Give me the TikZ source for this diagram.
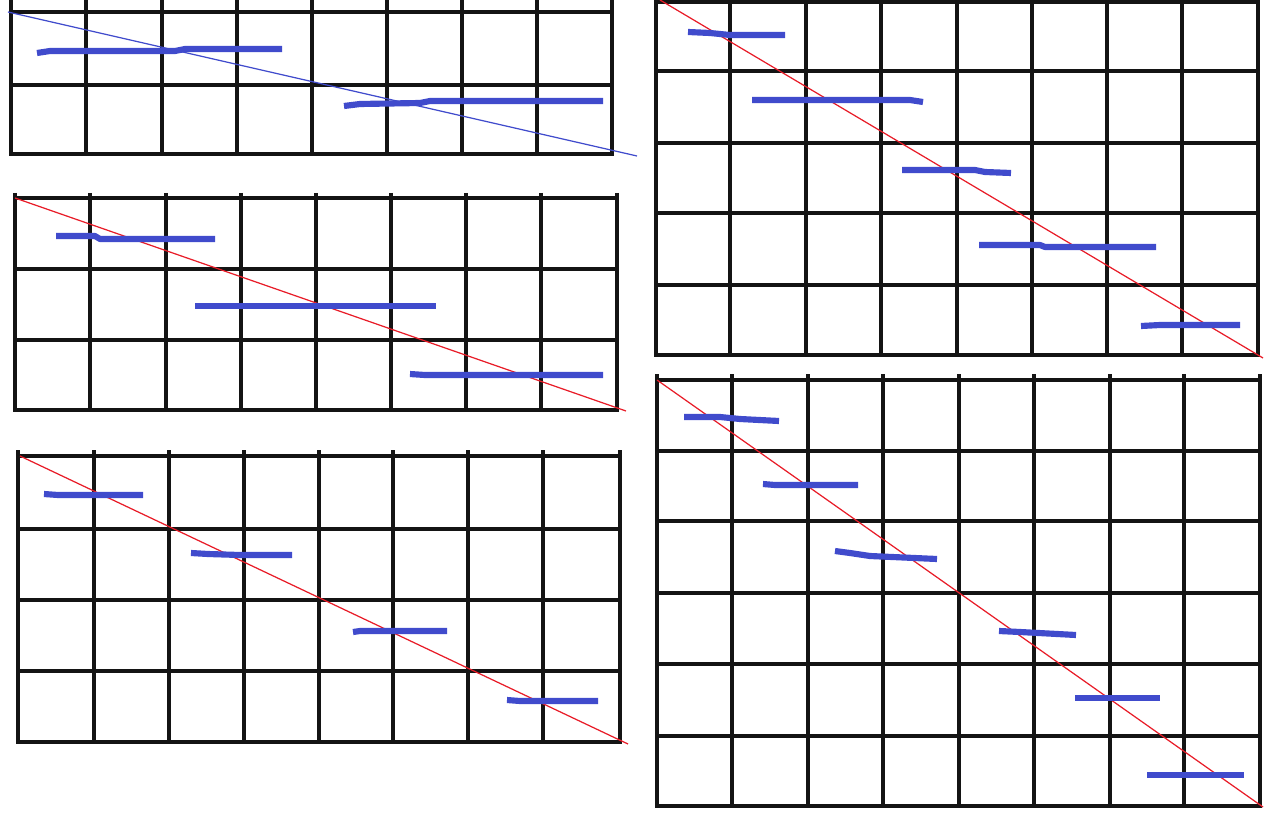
\documentclass[tikz,border=0pt]{standalone}
\usepackage{tikz}
\definecolor{gblue}{RGB}{64,75,204}
\definecolor{gred}{RGB}{232,28,40}
\tikzset{
  gridline/.style={line width=1.8pt, black!92},
  stroke/.style={line width=3.5pt, gblue, line cap=butt, line join=bevel},
  diagred/.style={line width=0.7pt, gred},
  diagblue/.style={line width=0.7pt, gblue},
}
\begin{document}
\begin{tikzpicture}[x=0.02cm, y=-0.02cm]
\useasboundingbox (0,0) rectangle (1280,824);
% ---------- panel 1 (top left)
\foreach \x in {11,86,162,237,312,387,462,537,612} \draw[gridline] (\x,0) -- (\x,154);
\foreach \y in {12,85,154} \draw[gridline] (9,\y) -- (614,\y);
\draw[diagblue] (8,12) -- (637,156);
\draw[stroke] (37,53) -- (50,51) -- (175,51) -- (185,49) -- (282,49);
\draw[stroke] (344,106) -- (360,104) -- (420,103) -- (430,101) -- (603,101);
% ---------- panel 2 (middle left)
\foreach \x in {15,90,166,241,316,391,466,541,617} \draw[gridline] (\x,193) -- (\x,410);
\foreach \y in {198,269,340,410} \draw[gridline] (13,\y) -- (619,\y);
\draw[diagred] (15,198) -- (626,411);
\draw[stroke] (56,236) -- (95,236) -- (100,239) -- (215,239);
\draw[stroke] (195,306) -- (436,306);
\draw[stroke] (410,374) -- (425,375) -- (603,375);
% ---------- panel 3 (bottom left)
\foreach \x in {18,94,169,244,319,393,468,543,620} \draw[gridline] (\x,450) -- (\x,742);
\foreach \y in {456,529,600,671,742} \draw[gridline] (16,\y) -- (622,\y);
\draw[diagred] (20,456) -- (628,744);
\draw[stroke] (44,494) -- (58,495) -- (143,495);
\draw[stroke] (191,553) -- (208,554) -- (240,555) -- (292,555);
\draw[stroke] (353,632) -- (360,631) -- (447,631);
\draw[stroke] (507,700) -- (520,701) -- (598,701);
% ---------- panel 4 (top right)
\foreach \x in {656,730,806,881,957,1032,1107,1182,1258} \draw[gridline] (\x,0) -- (\x,355);
\foreach \y in {2,71,143,213,285,355} \draw[gridline] (654,\y) -- (1260,\y);
\draw[diagred] (660,0) -- (1263,358);
\draw[stroke] (688,32) -- (710,33) -- (730,35) -- (785,35);
\draw[stroke] (752,100) -- (910,100) -- (923,102);
\draw[stroke] (902,170) -- (975,170) -- (985,172) -- (1011,173);
\draw[stroke] (979,245) -- (1040,245) -- (1045,247) -- (1156,247);
\draw[stroke] (1141,326) -- (1160,325) -- (1240,325);
% ---------- panel 5 (bottom right)
\foreach \x in {657,732,808,883,959,1034,1110,1184,1260} \draw[gridline] (\x,374) -- (\x,806);
\foreach \y in {380,451,521,593,664,736,806} \draw[gridline] (655,\y) -- (1262,\y);
\draw[diagred] (657,380) -- (1263,807);
\draw[stroke] (684,417) -- (720,417) -- (740,419) -- (779,421);
\draw[stroke] (763,484) -- (775,485) -- (858,485);
\draw[stroke] (835,551) -- (850,553) -- (870,556) -- (937,559);
\draw[stroke] (999,631) -- (1020,632) -- (1076,635);
\draw[stroke] (1075,698) -- (1160,698);
\draw[stroke] (1147,775) -- (1244,775);
\end{tikzpicture}
\end{document}
